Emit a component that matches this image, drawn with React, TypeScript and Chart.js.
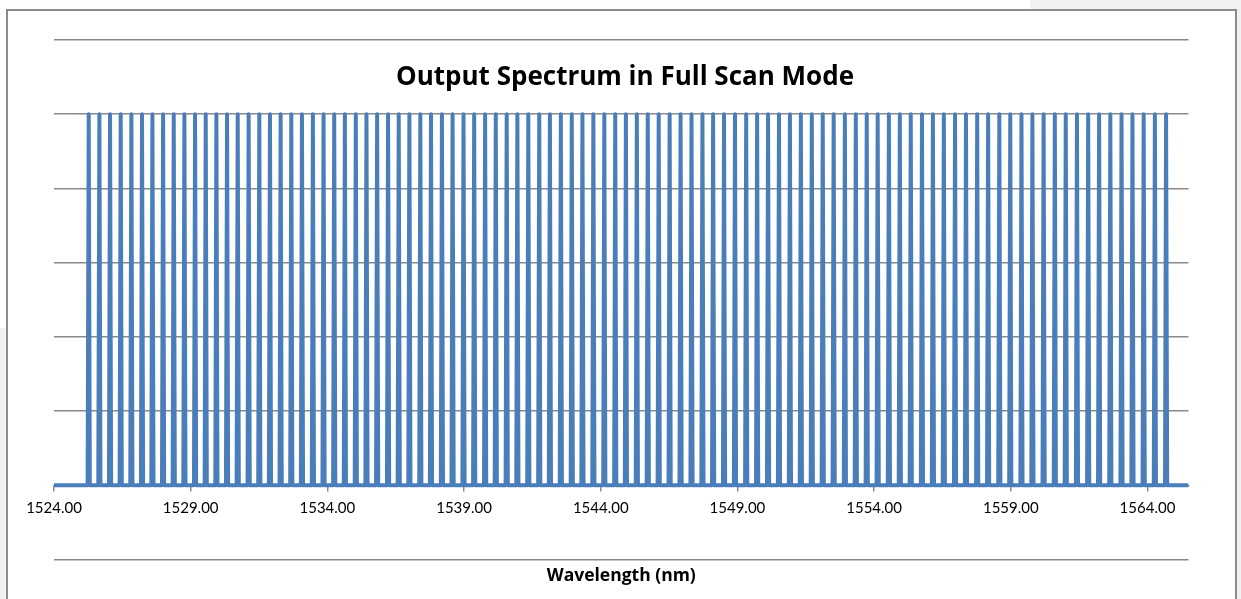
import React, { useEffect, useRef } from "react";
import { Chart, registerables } from "chart.js";

Chart.register(...registerables);

// Channel centre wavelengths (nm) of the scanned output peaks
const peakWavelengths: number[] = [
  1525.27, 1525.66, 1526.05, 1526.44, 1526.83, 1527.22, 1527.6, 1527.99, 1528.38, 1528.77,
  1529.16, 1529.55, 1529.94, 1530.33, 1530.72, 1531.12, 1531.51, 1531.9, 1532.29, 1532.68,
  1533.07, 1533.47, 1533.86, 1534.25, 1534.64, 1535.04, 1535.43, 1535.82, 1536.22, 1536.61,
  1537.0, 1537.4, 1537.79, 1538.19, 1538.58, 1538.98, 1539.37, 1539.77, 1540.16, 1540.56,
  1540.95, 1541.35, 1541.75, 1542.14, 1542.54, 1542.94, 1543.33, 1543.73, 1544.13, 1544.53,
  1544.92, 1545.32, 1545.72, 1546.12, 1546.52, 1546.92, 1547.32, 1547.72, 1548.11, 1548.51,
  1548.91, 1549.32, 1549.72, 1550.12, 1550.52, 1550.92, 1551.32, 1551.72, 1552.12, 1552.52,
  1552.93, 1553.33, 1553.73, 1554.13, 1554.54, 1554.94, 1555.34, 1555.75, 1556.15, 1556.55,
  1556.96, 1557.36, 1557.77, 1558.17, 1558.58, 1558.98, 1559.39, 1559.79, 1560.2, 1560.61,
  1561.01, 1561.42, 1561.83, 1562.23, 1562.64, 1563.05, 1563.45, 1563.86, 1564.27, 1564.68,
];
const peakLevel = 5;
const baseLevel = 0;
const peakHalfWidth = 0.04; // nm
const scanStart = 1524.0;
const scanEnd = 1565.5;

const xTickValues: number[] = [1524, 1529, 1534, 1539, 1544, 1549, 1554, 1559, 1564];
const yGridValues: number[] = [-1, 0, 1, 2, 3, 4, 5, 6];

const chartTitle = "Output Spectrum in Full Scan Mode";
const xAxisTitle = "Wavelength (nm)";

const FONT = "Lato, 'Open Sans', sans-serif";
const TITLE_FONT = "'Open Sans', Lato, sans-serif";
const GRID = "#8a8a8a";
const LINE = "#4A7EBB";

export default function App() {
  const canvasRef = useRef<HTMLCanvasElement | null>(null);

  useEffect(() => {
    document.body.style.margin = "0";
    const canvas = canvasRef.current;
    if (!canvas) return;

    const points: { x: number; y: number }[] = [{ x: scanStart, y: baseLevel }];
    for (const p of peakWavelengths) {
      points.push({ x: p - peakHalfWidth, y: baseLevel });
      points.push({ x: p, y: peakLevel });
      points.push({ x: p + peakHalfWidth, y: baseLevel });
    }
    points.push({ x: scanEnd, y: baseLevel });

    const titlePlugin = {
      id: "inPlotTitle",
      afterDraw(chart: any) {
        const ctx = chart.ctx;
        ctx.save();
        ctx.font = `bold 26px ${TITLE_FONT}`;
        ctx.fillStyle = "#000";
        ctx.textAlign = "center";
        ctx.textBaseline = "alphabetic";
        ctx.fillText(chartTitle, 625, 85);
        ctx.restore();
      },
    };

    const chart = new Chart(canvas, {
      type: "line",
      data: {
        datasets: [
          {
            label: "Output",
            data: points,
            borderColor: LINE,
            borderWidth: 4,
            pointRadius: 0,
            tension: 0,
            fill: false,
            borderJoinStyle: "round",
          },
        ],
      },
      options: {
        responsive: false,
        maintainAspectRatio: false,
        animation: false,
        layout: { padding: { left: 54, right: 52.5, top: 40, bottom: 0 } },
        plugins: {
          legend: { display: false },
          tooltip: { enabled: false },
          title: { display: false },
        },
        scales: {
          x: {
            type: "linear",
            min: scanStart,
            max: scanEnd,
            position: { y: 0 } as any,
            afterBuildTicks: (scale: any) => {
              scale.ticks = xTickValues.map((v) => ({ value: v }));
            },
            ticks: {
              autoSkip: false,
              maxRotation: 0,
              padding: 9,
              color: "#000",
              font: { family: FONT, size: 15 },
              callback: (v: any) => Number(v).toFixed(2),
            },
            grid: {
              drawOnChartArea: false,
              drawTicks: true,
              tickLength: 5,
              color: GRID,
              lineWidth: 1.5,
            },
            border: { display: true, color: GRID, width: 1.5 },
          },
          xTitle: {
            type: "linear",
            axis: "x",
            position: "bottom",
            min: scanStart,
            max: scanEnd,
            ticks: { display: false },
            grid: { display: false, drawTicks: false },
            border: { display: false },
            title: {
              display: true,
              text: xAxisTitle,
              color: "#000",
              font: { family: TITLE_FONT, size: 17.5, weight: "bold" },
              padding: { top: 6, bottom: 12.5 },
            },
          },
          y: {
            type: "linear",
            min: -1,
            max: 6,
            afterBuildTicks: (scale: any) => {
              scale.ticks = yGridValues.map((v) => ({ value: v }));
            },
            ticks: { display: false },
            grid: { drawTicks: false, color: GRID, lineWidth: 1.5 },
            border: { display: false },
          },
        },
      },
      plugins: [titlePlugin],
    } as any);

    return () => chart.destroy();
  }, []);

  return (
    <div
      style={{
        position: "fixed",
        left: 0,
        top: 0,
        width: 1241,
        height: 599,
        background: "#ffffff",
        overflow: "hidden",
      }}
    >
      <div style={{ position: "absolute", left: 1030, top: 0, width: 211, height: 9, background: "#f1f1f1" }} />
      <div style={{ position: "absolute", left: 1237, top: 0, width: 4, height: 599, background: "#f1f1f1" }} />
      <div style={{ position: "absolute", left: 0, top: 328, width: 6, height: 271, background: "#f1f1f1" }} />
      <div
        style={{
          position: "absolute",
          left: 6,
          top: 9,
          width: 1227,
          height: 600,
          borderTop: "2px solid #8c8c8c",
          borderLeft: "2px solid #8c8c8c",
          borderRight: "2px solid #8c8c8c",
        }}
      />
      <canvas
        ref={canvasRef}
        width={1241}
        height={599}
        style={{ position: "absolute", left: 0, top: 0, width: 1241, height: 599 }}
      />
    </div>
  );
}
